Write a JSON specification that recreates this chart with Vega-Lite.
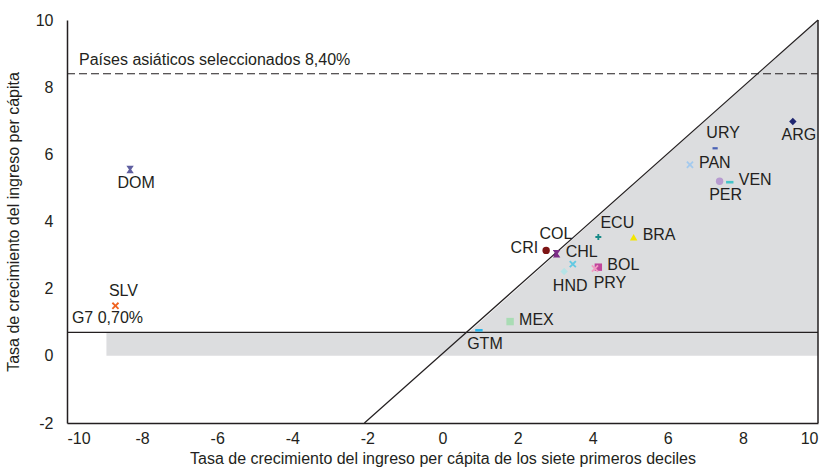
{
  "$schema": "https://vega.github.io/schema/vega-lite/v6.json",
  "width": 751,
  "height": 403,
  "autosize": "none",
  "padding": {"left": 67, "top": 20, "right": 12, "bottom": 44},
  "background": "white",
  "config": {
    "view": {"stroke": null},
    "font": "Liberation Sans",
    "axis": {
      "grid": false,
      "ticks": false,
      "domainColor": "#231f20",
      "domainWidth": 1.5,
      "labelFont": "Liberation Sans",
      "labelFontSize": 16,
      "labelColor": "#231f20",
      "titleFont": "Liberation Sans",
      "titleFontSize": 16,
      "titleFontWeight": "normal",
      "titleColor": "#231f20"
    }
  },
  "datasets": {
    "paises": [
      {"pais": "ARG", "x": 9.33, "y": 6.98},
      {"pais": "URY", "x": 7.26, "y": 6.18},
      {"pais": "PAN", "x": 6.59, "y": 5.69},
      {"pais": "PER", "x": 7.38, "y": 5.2},
      {"pais": "VEN", "x": 7.65, "y": 5.17},
      {"pais": "ECU", "x": 4.15, "y": 3.54},
      {"pais": "BRA", "x": 5.09, "y": 3.53},
      {"pais": "CRI", "x": 2.76, "y": 3.14},
      {"pais": "COL", "x": 3.02, "y": 3.06},
      {"pais": "CHL", "x": 3.04, "y": 3.04},
      {"pais": "NIC", "x": 3.47, "y": 2.73},
      {"pais": "HND", "x": 3.24, "y": 2.51},
      {"pais": "BOL", "x": 4.15, "y": 2.64},
      {"pais": "PRY", "x": 4.06, "y": 2.6},
      {"pais": "MEX", "x": 1.8, "y": 1.02},
      {"pais": "GTM", "x": 0.97, "y": 0.76},
      {"pais": "DOM", "x": -8.32, "y": 5.55},
      {"pais": "SLV", "x": -8.71, "y": 1.49}
    ]
  },
  "layer": [
    {
      "data": {"values": [{"x": -8.95, "x2": 10, "y": 0, "y2": 0.7}]},
      "mark": {"type": "rect", "color": "#dcdddf"},
      "encoding": {
        "x": {"field": "x", "type": "quantitative", "scale": {"domain": [-10, 10], "nice": false}, "axis": {"values": [-10, -8, -6, -4, -2, 0, 2, 4, 6, 8, 10], "labelExpr": "'' + datum.value", "labelPadding": 7, "title": "Tasa de crecimiento del ingreso per cápita de los siete primeros deciles", "titlePadding": 4}},
        "x2": {"field": "x2"},
        "y": {"field": "y", "type": "quantitative", "scale": {"domain": [-2, 10], "nice": false}, "axis": {"values": [-2, 0, 2, 4, 6, 8, 10], "labelExpr": "'' + datum.value", "labelPadding": 14, "title": "Tasa de crecimiento del ingreso per cápita", "titlePadding": 14}},
        "y2": {"field": "y2"}
      }
    },
    {
      "data": {"values": [{"x": 0.7, "y": 0.7, "base": 0.7}, {"x": 10, "y": 10, "base": 0.7}]},
      "mark": {"type": "area", "color": "#dcdddf", "opacity": 1},
      "encoding": {
        "x": {"field": "x", "type": "quantitative"},
        "y": {"field": "y", "type": "quantitative"},
        "y2": {"field": "base"}
      }
    },
    {
      "data": {"values": [{"x": -2.08, "y": -2}, {"x": 10, "y": 10}]},
      "mark": {"type": "line", "color": "#231f20", "strokeWidth": 1.2},
      "encoding": {
        "x": {"field": "x", "type": "quantitative"},
        "y": {"field": "y", "type": "quantitative"}
      }
    },
    {
      "data": {"values": [{"x": -10, "x2": 10, "y": 0.7}]},
      "mark": {"type": "rule", "color": "#231f20", "strokeWidth": 1.3},
      "encoding": {
        "x": {"field": "x", "type": "quantitative"},
        "x2": {"field": "x2"},
        "y": {"field": "y", "type": "quantitative"}
      }
    },
    {
      "data": {"values": [{"x": -10, "x2": 10, "y": 8.4}]},
      "mark": {"type": "rule", "color": "#231f20", "strokeWidth": 1.2, "strokeDash": [8, 4]},
      "encoding": {
        "x": {"field": "x", "type": "quantitative"},
        "x2": {"field": "x2"},
        "y": {"field": "y", "type": "quantitative"}
      }
    },
    {
      "data": {"values": [{"x": 10, "y": -2, "y2": 10}]},
      "mark": {"type": "rule", "color": "#231f20", "strokeWidth": 1.5},
      "encoding": {
        "x": {"field": "x", "type": "quantitative"},
        "y": {"field": "y", "type": "quantitative"},
        "y2": {"field": "y2"}
      }
    },
    {
      "data": {"values": [{"x": -9.68, "y": 8.4, "label": "Países asiáticos seleccionados 8,40%"}]},
      "mark": {"type": "text", "align": "left", "baseline": "middle", "dy": -14, "fontSize": 16, "color": "#231f20"},
      "encoding": {
        "x": {"field": "x", "type": "quantitative"},
        "y": {"field": "y", "type": "quantitative"},
        "text": {"field": "label"}
      }
    },
    {
      "data": {"values": [{"x": -9.87, "y": 0.7, "label": "G7 0,70%"}]},
      "mark": {"type": "text", "align": "left", "baseline": "middle", "dy": -14, "fontSize": 16, "color": "#231f20"},
      "encoding": {
        "x": {"field": "x", "type": "quantitative"},
        "y": {"field": "y", "type": "quantitative"},
        "text": {"field": "label"}
      }
    },
    {
      "data": {"name": "paises"},
      "mark": {"type": "point", "filled": true, "opacity": 1, "size": 55},
      "encoding": {
        "x": {"field": "x", "type": "quantitative"},
        "y": {"field": "y", "type": "quantitative"},
        "color": {
          "field": "pais", "type": "nominal", "legend": null,
          "scale": {
            "domain": ["ARG", "URY", "PAN", "PER", "VEN", "ECU", "BRA", "CRI", "COL", "CHL", "NIC", "HND", "BOL", "PRY", "MEX", "GTM", "DOM", "SLV"],
            "range": ["#1f2670", "#4a62b5", "#a4caee", "#b79bd0", "#45c4c9", "#178a88", "#f3e500", "#7d1414", "#6a2478", "#7d2d88", "#62c9e2", "#b6e3e6", "#c1459b", "#f09bc3", "#a9dcb4", "#2cb6ea", "#5e5ea0", "#f0621f"]
          }
        },
        "shape": {
          "field": "pais", "type": "nominal", "legend": null,
          "scale": {
            "domain": ["ARG", "URY", "PAN", "PER", "VEN", "ECU", "BRA", "CRI", "COL", "CHL", "NIC", "HND", "BOL", "PRY", "MEX", "GTM", "DOM", "SLV"],
            "range": [
              "diamond",
              "M-0.7,-0.3H0.7V0.3H-0.7Z",
              "M-1,-0.65L-0.65,-1L0,-0.35L0.65,-1L1,-0.65L0.35,0L1,0.65L0.65,1L0,0.35L-0.65,1L-1,0.65L-0.35,0Z",
              "circle",
              "M-1,-0.35H1V0.35H-1Z",
              "M-0.25,-0.8H0.25V-0.25H0.8V0.25H0.25V0.8H-0.25V0.25H-0.8V-0.25H-0.25Z",
              "triangle-up",
              "circle",
              "M-0.8,-0.8H0.8L0.25,0L0.8,0.8H-0.8L-0.25,0Z",
              "M-1,-1H1L0.3,0L1,1H-1L-0.3,0Z",
              "M-1,-0.65L-0.65,-1L0,-0.35L0.65,-1L1,-0.65L0.35,0L1,0.65L0.65,1L0,0.35L-0.65,1L-1,0.65L-0.35,0Z",
              "diamond",
              "square",
              "M-1,-0.65L-0.65,-1L0,-0.35L0.65,-1L1,-0.65L0.35,0L1,0.65L0.65,1L0,0.35L-0.65,1L-1,0.65L-0.35,0Z",
              "square",
              "M-1,-0.35H1V0.35H-1Z",
              "M-1,-1H1L0.3,0L1,1H-1L-0.3,0Z",
              "M-1,-0.65L-0.65,-1L0,-0.35L0.65,-1L1,-0.65L0.35,0L1,0.65L0.65,1L0,0.35L-0.65,1L-1,0.65L-0.35,0Z"
            ]
          }
        }
      }
    },
    {
      "data": {"name": "paises"},
      "transform": [{"filter": {"field": "pais", "oneOf": ["PAN", "VEN", "BRA", "CHL", "BOL", "MEX"]}}],
      "mark": {"type": "text", "align": "left", "baseline": "middle", "dx": 9, "dy": -2, "fontSize": 16, "color": "#231f20"},
      "encoding": {"x": {"field": "x", "type": "quantitative"}, "y": {"field": "y", "type": "quantitative"}, "text": {"field": "pais"}}
    },
    {
      "data": {"name": "paises"},
      "transform": [{"filter": {"field": "pais", "oneOf": ["CRI"]}}],
      "mark": {"type": "text", "align": "right", "baseline": "middle", "dx": -8, "dy": -2, "fontSize": 16, "color": "#231f20"},
      "encoding": {"x": {"field": "x", "type": "quantitative"}, "y": {"field": "y", "type": "quantitative"}, "text": {"field": "pais"}}
    },
    {
      "data": {"name": "paises"},
      "transform": [{"filter": {"field": "pais", "oneOf": ["ARG", "PER", "HND", "GTM", "DOM"]}}],
      "mark": {"type": "text", "align": "center", "baseline": "middle", "dx": 6, "dy": 14, "fontSize": 16, "color": "#231f20"},
      "encoding": {"x": {"field": "x", "type": "quantitative"}, "y": {"field": "y", "type": "quantitative"}, "text": {"field": "pais"}}
    },
    {
      "data": {"name": "paises"},
      "transform": [{"filter": {"field": "pais", "oneOf": ["PRY"]}}],
      "mark": {"type": "text", "align": "center", "baseline": "middle", "dx": 15, "dy": 14, "fontSize": 16, "color": "#231f20"},
      "encoding": {"x": {"field": "x", "type": "quantitative"}, "y": {"field": "y", "type": "quantitative"}, "text": {"field": "pais"}}
    },
    {
      "data": {"name": "paises"},
      "transform": [{"filter": {"field": "pais", "oneOf": ["URY", "SLV"]}}],
      "mark": {"type": "text", "align": "center", "baseline": "middle", "dx": 8, "dy": -15, "fontSize": 16, "color": "#231f20"},
      "encoding": {"x": {"field": "x", "type": "quantitative"}, "y": {"field": "y", "type": "quantitative"}, "text": {"field": "pais"}}
    },
    {
      "data": {"name": "paises"},
      "transform": [{"filter": {"field": "pais", "oneOf": ["ECU"]}}],
      "mark": {"type": "text", "align": "center", "baseline": "middle", "dx": 19, "dy": -14, "fontSize": 16, "color": "#231f20"},
      "encoding": {"x": {"field": "x", "type": "quantitative"}, "y": {"field": "y", "type": "quantitative"}, "text": {"field": "pais"}}
    },
    {
      "data": {"name": "paises"},
      "transform": [{"filter": {"field": "pais", "oneOf": ["COL"]}}],
      "mark": {"type": "text", "align": "center", "baseline": "middle", "dx": 0, "dy": -19, "fontSize": 16, "color": "#231f20"},
      "encoding": {"x": {"field": "x", "type": "quantitative"}, "y": {"field": "y", "type": "quantitative"}, "text": {"field": "pais"}}
    }
  ]
}
